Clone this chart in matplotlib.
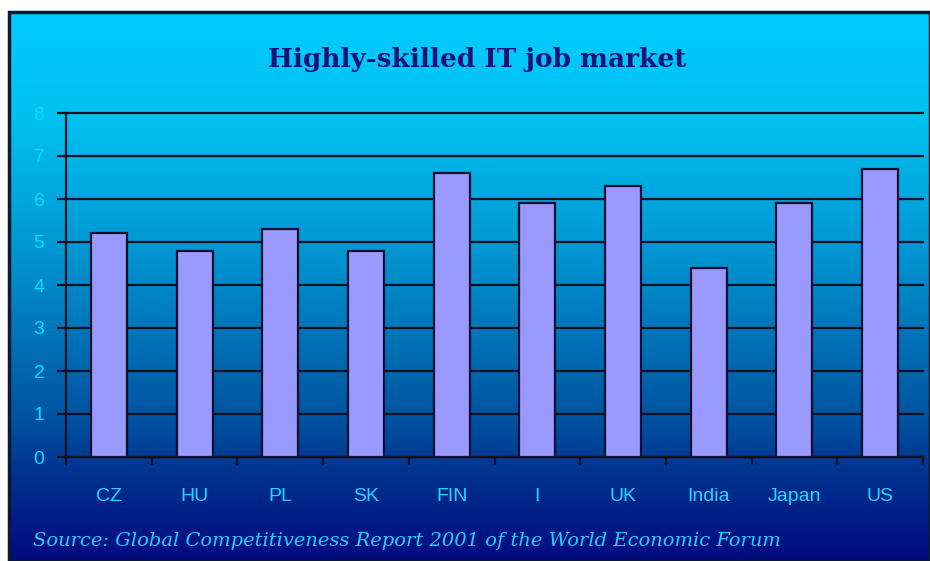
import numpy as np
import matplotlib
matplotlib.use("Agg")
import matplotlib.pyplot as plt
from matplotlib.patches import Rectangle

categories = ["CZ", "HU", "PL", "SK", "FIN", "I", "UK", "India", "Japan", "US"]
values = [5.2, 4.8, 5.3, 4.8, 6.6, 5.9, 6.3, 4.4, 5.9, 6.7]
yticks = [0, 1, 2, 3, 4, 5, 6, 7, 8]
title = "Highly-skilled IT job market"
source = "Source: Global Competitiveness Report 2001 of the World Economic Forum"

W, H = 930, 561
fig = plt.figure(figsize=(W / 100, H / 100), dpi=100, facecolor="white")

# gradient background box
bx0, by0 = 9 / W, 0.0
bw, bh = 1 - bx0, (H - 12) / H
bg = fig.add_axes([bx0, by0, bw, bh])
stops_y = np.array([12, 120, 250, 350, 420, 470, 561])
stops_c = np.array([[0, 204, 255], [0, 192, 240], [0, 150, 210], [0, 110, 180],
                    [0, 82, 160], [0, 52, 145], [0, 10, 128]]) / 255
yy = np.linspace(12, 561, 400)
grad = np.stack([np.interp(yy, stops_y, stops_c[:, k]) for k in range(3)], axis=1)
bg.imshow(grad[:, None, :], aspect="auto", extent=[0, 1, 0, 1])
bg.set_xlim(0, 1)
bg.set_ylim(0, 1)
bg.axis("off")
bg.add_patch(Rectangle((0, 0), 1, 1, transform=bg.transAxes, fill=False,
                       edgecolor="#0a1a30", linewidth=2.5, clip_on=False))

ax = fig.add_axes([66 / W, 1 - 457 / H, (923 - 66) / W, (457 - 113) / H])
ax.patch.set_alpha(0)
x = np.arange(len(categories))
ax.bar(x, values, width=0.42, color="#9999FF", edgecolor="#101030",
       linewidth=1.6, zorder=3)
ax.set_xlim(-0.5, len(categories) - 0.5)
ax.set_ylim(0, 8)
ax.set_yticks(yticks)
ax.yaxis.grid(True, color="#101020", linewidth=1.6, zorder=1)
for gl in ax.get_ygridlines():
    gl.set_clip_on(False)
ax.set_axisbelow(True)
for s in ["top", "right"]:
    ax.spines[s].set_visible(False)
for s in ["left", "bottom"]:
    ax.spines[s].set_color("#101020")
    ax.spines[s].set_linewidth(1.6)
ax.tick_params(axis="y", direction="out", length=6.5, width=1.6, color="#101020",
               labelcolor="#00E0FF", labelsize=14, pad=9)
ax.set_yticklabels([str(v) for v in yticks], fontfamily="Liberation Sans")
ax.set_xticks(x)
ax.set_xticklabels(categories, fontfamily="Liberation Sans")
ax.tick_params(axis="x", which="major", length=0, labelcolor="#20D8FF",
               labelsize=14, pad=22)
ax.set_xticks(np.arange(len(categories) + 1) - 0.5, minor=True)
ax.tick_params(axis="x", which="minor", direction="out", length=5.5, width=1.6,
               color="#101020")

fig.text(477 / W, 1 - 60 / H, title, ha="center", va="center",
         fontfamily="DejaVu Serif", fontweight="bold", fontsize=19, color="#141478")
fig.text(33 / W, 1 - 541 / H, source, ha="left", va="center",
         fontfamily="DejaVu Serif", fontstyle="italic", fontsize=14, color="#20D0FF")

fig.savefig("out.png", dpi=100, facecolor="white")
